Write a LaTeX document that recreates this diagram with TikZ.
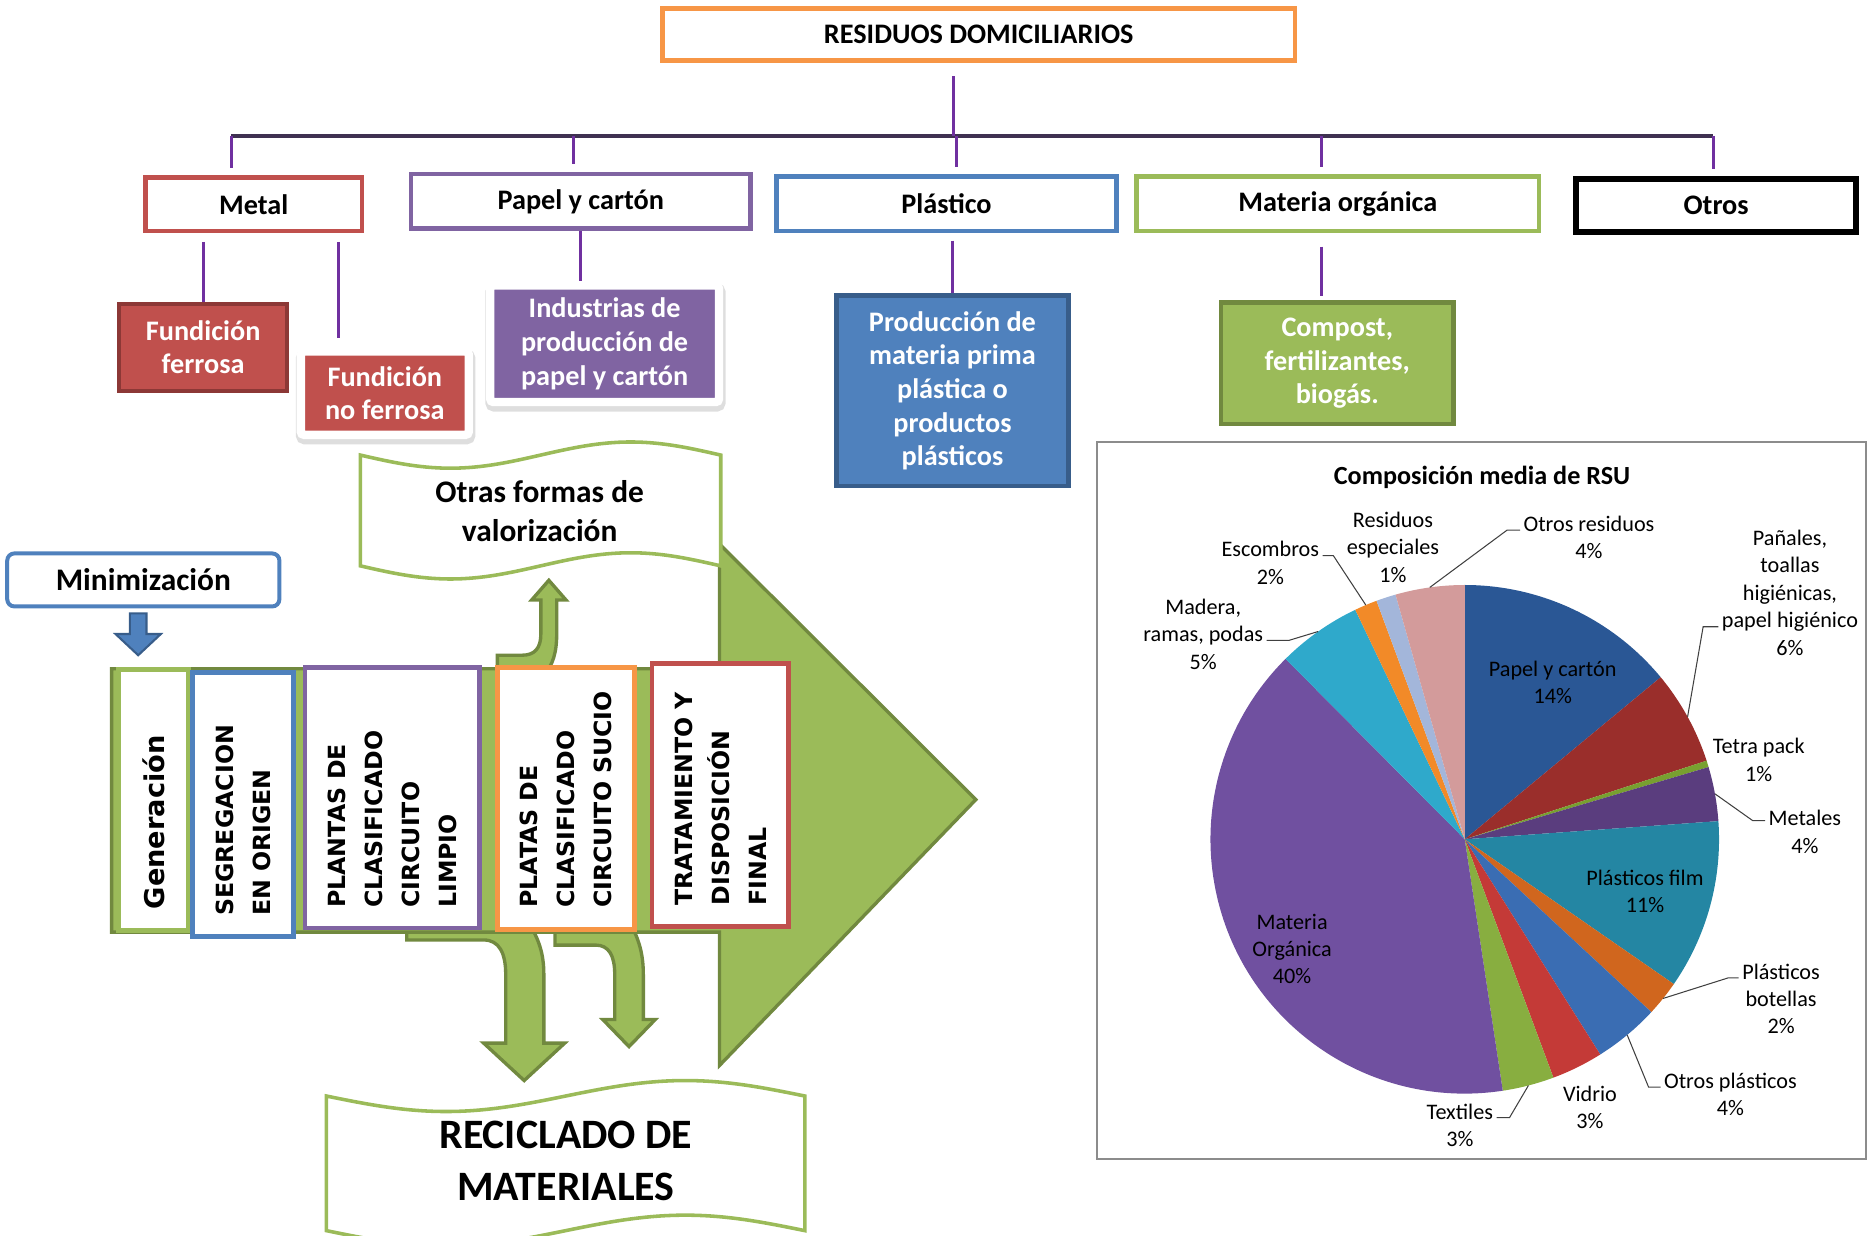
\documentclass[tikz,border=0pt]{standalone}
\usepackage{fontspec}
\setmainfont{Carlito}
\newfontfamily\vfont{DejaVu Sans}
\usetikzlibrary{shadows}
\definecolor{naranja}{HTML}{F79646}
\definecolor{rojo}{HTML}{C0504D}
\definecolor{rojoosc}{HTML}{8C3836}
\definecolor{morado}{HTML}{8064A2}
\definecolor{azul}{HTML}{4F81BD}
\definecolor{azulosc}{HTML}{385D8A}
\definecolor{verde}{HTML}{9BBB59}
\definecolor{verdeosc}{HTML}{71893F}
\definecolor{linea}{HTML}{7030A0}
\definecolor{barra}{HTML}{3F3151}
\definecolor{gris}{HTML}{8C8C8C}
\definecolor{pPapel}{HTML}{2A5795}
\definecolor{pPanal}{HTML}{9A2E2B}
\definecolor{pTetra}{HTML}{78A030}
\definecolor{pMetal}{HTML}{5A3D7E}
\definecolor{pFilm}{HTML}{2486A3}
\definecolor{pBotella}{HTML}{D0661E}
\definecolor{pOtroP}{HTML}{3A6DB3}
\definecolor{pVidrio}{HTML}{C43A37}
\definecolor{pTextil}{HTML}{88AE40}
\definecolor{pOrg}{HTML}{7050A0}
\definecolor{pMadera}{HTML}{2FA9CB}
\definecolor{pEscombro}{HTML}{F28A28}
\definecolor{pEspecial}{HTML}{A3B6DA}
\definecolor{pOtroR}{HTML}{D39B9B}
\tikzset{
  cat/.style={draw=#1, line width=2.2pt, fill=white, inner sep=0pt, font=\bfseries\fontsize{13.5}{16}\selectfont},
  res/.style={fill=#1, text=white, align=center, inner sep=0pt, font=\bfseries\fontsize{13.5}{16.1}\selectfont},
  marco/.style={draw=white, line width=4pt, rounded corners=1.5pt,
    general shadow={draw=black, fill=black, line width=5.5pt, opacity=0.13, shadow yshift=-1.8pt, shadow xshift=0.4pt}},
  etapa/.style={draw=#1, line width=2.3pt, fill=white, rotate=90, align=left, inner sep=0pt, font=\vfont\bfseries\fontsize{11.3}{17.6}\selectfont},
  rama/.style={draw=linea, line width=1.4pt},
  bus/.style={draw=barra, line width=2.2pt},
  bloque/.style={fill=verde, draw=verdeosc, line width=1.6pt},
  cinta/.style={draw=verde, fill=white, line width=1.7pt},
  lbl/.style={align=center, inner sep=1.5pt, font=\fontsize{10.6}{13.1}\selectfont},
  guia/.style={draw=black!75, line width=0.5pt}
}
\begin{document}
\begin{tikzpicture}[x=0.02cm,y=-0.02cm]
\useasboundingbox (0,0) rectangle (1568,1037);
\clip (0,0) rectangle (1568,1037);

\node[cat=naranja, minimum width=10.62cm, minimum height=0.88cm](residuos) at (821.5,29){RESIDUOS DOMICILIARIOS};
\node[cat=rojo, minimum width=3.64cm, minimum height=0.9cm](metal) at (213,171.5){Metal};
\node[cat=morado, minimum width=5.7cm, minimum height=0.92cm](papel) at (487.5,169){Papel y cartón};
\node[cat=azul, minimum width=5.7cm, minimum height=0.92cm](plastico) at (794.5,171){Plástico};
\node[cat=verde, minimum width=6.76cm, minimum height=0.92cm](organica) at (1123,171){Materia orgánica};
\node[cat=black, line width=2.8pt, minimum width=4.7cm, minimum height=0.9cm](otros) at (1440.5,172.5){Otros};

\coordinate (b0) at (800,114);
\coordinate (b1) at (194,114);
\coordinate (b2) at (481,114);
\coordinate (b3) at (803,114);
\coordinate (b4) at (1109,114);
\coordinate (b5) at (1438,114);
\draw[bus] (b1) -- (b5);
\draw[rama, shorten <=0.22cm] (residuos.south -| b0) -- (b0);
\foreach \b/\n in {b1/metal, b2/papel, b3/plastico, b4/organica, b5/otros}
  \draw[rama, shorten >=0.12cm] (\b) -- (\b |- \n.north);

\node[res=rojo, draw=rojoosc, line width=2pt, minimum width=2.82cm, minimum height=1.46cm](ferrosa) at (170.5,291.5){Fundición\\ferrosa};
\node[res=rojo, marco, minimum width=2.82cm, minimum height=1.4cm](noferrosa) at (323,330){Fundición\\no ferrosa};
\node[res=morado, marco, minimum width=3.84cm, minimum height=1.96cm](industria) at (507.5,288.5){Industrias de\\producción de\\papel y cartón};
\node[res=azul, draw=azulosc, line width=2.2pt, minimum width=3.9cm, minimum height=3.2cm](produccion) at (799.5,328){Producción de\\materia prima\\plástica o\\productos\\plásticos};
\node[res=verde, draw=verdeosc, line width=2.2pt, minimum width=3.9cm, minimum height=2.04cm](compost) at (1122.5,305){Compost,\\fertilizantes,\\biogás.};

\coordinate (m2) at (284,0);
\coordinate (m4) at (1109,0);
\draw[rama, shorten <=0.14cm] (ferrosa.north |- metal.south) -- (ferrosa.north);
\draw[rama, shorten <=0.14cm, shorten >=0.16cm] (metal.south -| m2) -- (noferrosa.north -| m2);
\draw[rama] (papel.south) -- (papel.south |- industria.north);
\draw[rama, shorten <=0.12cm] (produccion.north |- plastico.south) -- (produccion.north);
\draw[rama, shorten <=0.22cm, shorten >=0.08cm] (organica.south -| m4) -- (compost.north -| m4);

\draw[bloque] (417.5,566) -- (417.5,550) -- (438,550) .. controls (449,550) and (454,544) .. (454,532) -- (454,503.6) -- (446.3,503.6) -- (460.7,487.1) -- (475.1,503.6) -- (467.3,503.6) -- (467.3,532) .. controls (467.3,548) and (464,558) .. (457,566) -- cycle;
\draw[bloque] (341.4,775) -- (341.4,789) -- (406,789) .. controls (419,789) and (424.5,800) .. (424.5,818) -- (424.5,875.6) -- (406,875.6) -- (440,907) -- (474,875.6) -- (456.5,875.6) -- (456.5,818) .. controls (456.5,800) and (452,788) .. (444,775) -- cycle;
\draw[bloque] (465.9,775) -- (465.9,793.3) -- (500,793.3) .. controls (511,793.3) and (516,802) .. (516,818) -- (516,855.8) -- (506,855.8) -- (528,878.5) -- (550,855.8) -- (540,855.8) -- (540,818) .. controls (540,800) and (536,788) .. (529,775) -- cycle;
\draw[bloque] (93.7,561.3) -- (603.9,561.3) -- (603.9,456.6) -- (819.1,671.2) -- (603.9,894.4) -- (603.9,782.4) -- (93.7,782.4) -- cycle;

\node[etapa=verde, minimum width=4.37cm, minimum height=1.18cm, text width=3.67cm, font=\vfont\bfseries\fontsize{13}{17.6}\selectfont](generacion) at (128.7,671.5){Generación};
\node[etapa=azul, minimum width=4.43cm, minimum height=1.69cm, text width=3.73cm](segregacion) at (204,675.5){SEGREGACION\\EN ORIGEN};
\node[etapa=morado, minimum width=4.38cm, minimum height=2.93cm, text width=3.7cm](limpio) at (329.3,669.5){PLANTAS DE\\CLASIFICADO\\CIRCUITO\\LIMPIO};
\node[etapa=naranja, minimum width=4.4cm, minimum height=2.3cm, text width=3.68cm](sucio) at (475.1,670){PLATAS DE\\CLASIFICADO\\CIRCUITO SUCIO};
\node[etapa=rojo, minimum width=4.42cm, minimum height=2.3cm, text width=3.7cm](final) at (604.7,667.5){TRATAMIENTO Y\\DISPOSICIÓN\\FINAL};

\node[draw=azul, line width=1.9pt, rounded corners=0.12cm, fill=white, minimum width=4.57cm, minimum height=0.89cm, font=\bfseries\fontsize{15}{18}\selectfont](minimizacion) at (120.3,486.8){Minimización};
\draw[fill=azul, draw=azulosc, line width=1pt] (109,514.8) -- (123,514.8) -- (123,532.2) -- (135,532.2) -- (116,550) -- (97,532.2) -- (109,532.2) -- cycle;

\draw[cinta] (302.5,382) sin (378.1,393) cos (453.75,382) sin (529.4,371) cos (605,382) -- (605,475) sin (529.4,464) cos (453.75,475) sin (378.1,486) cos (302.5,475) -- cycle;
\node[align=center, font=\bfseries\fontsize{15}{18.2}\selectfont](otras) at (453,429){Otras formas de\\valorización};
\draw[cinta] (274,920) sin (374.4,933) cos (474.8,920) sin (575.2,907) cos (675.6,920) -- (675.6,1033) sin (575.2,1020) cos (474.8,1033) sin (374.4,1046) cos (274,1033) -- cycle;
\node[align=center, font=\bfseries\fontsize{20}{24.5}\selectfont](reciclado) at (475,974.5){RECICLADO DE\\MATERIALES};

\draw[draw=gris, line width=0.9pt] (921,371) rectangle (1566,973);
\node[font=\bfseries\fontsize{12.5}{15}\selectfont](titulo) at (1244,401){Composición media de RSU};
\begin{scope}[shift={(1229.5,704.5)}]
\foreach \a/\b/\c in {90/39.6/pPapel, 39.6/18/pPanal, 18/16.5/pTetra, 16.5/4.1/pMetal, 4.1/-34.7/pFilm, -34.7/-42.8/pBotella, -42.8/-57.8/pOtroP, -57.8/-69.6/pVidrio, -69.6/-81.4/pTextil, -81.4/-225.2/pOrg, -225.2/-244.5/pMadera, -244.5/-249.7/pEscombro, -249.7/-254.2/pEspecial, -254.2/-270/pOtroR}
  \fill[\c] (0,0) -- (\a:4.27cm) arc[start angle=\a, end angle=\b, radius=4.27cm] -- cycle;
\foreach \n/\a in {OtrR/97.9, Esc/112.9, Mad/125.2, Pan/28.8, Met/10.3, Bot/-38.75, OtrP/-50.3, Tex/-75.5}
  \coordinate (e\n) at (\a:4.27cm);
\end{scope}

\node[lbl](lPapel) at (1303.3,572.7){Papel y cartón\\14\%};
\node[lbl](lPan) at (1502.5,497.6){Pañales,\\toallas\\higiénicas,\\papel higiénico\\6\%};
\node[lbl](lTetra) at (1476.3,637.7){Tetra pack\\1\%};
\node[lbl](lMet) at (1515,698.3){Metales\\4\%};
\node[lbl](lFilm) at (1380.8,748.3){Plásticos film\\11\%};
\node[lbl](lBot) at (1495,838.4){Plásticos\\botellas\\2\%};
\node[lbl](lOtrP) at (1452.5,918.7){Otros plásticos\\4\%};
\node[lbl](lVid) at (1334.6,929.7){Vidrio\\3\%};
\node[lbl](lTex) at (1225.4,944.7){Textiles\\3\%};
\node[lbl](lMat) at (1084.6,796.6){Materia\\Orgánica\\40\%};
\node[lbl](lMad) at (1010,532.3){Madera,\\ramas, podas\\5\%};
\node[lbl](lEsc) at (1066.3,472.6){Escombros\\2\%};
\node[lbl](lResE) at (1169.2,459.2){Residuos\\especiales\\1\%};
\node[lbl](lOtrR) at (1333.8,451.3){Otros residuos\\4\%};

\coordinate (kOtrR) at (1265,445);
\coordinate (kEsc) at (1119.2,466.4);
\coordinate (kMad) at (1081.7,537.6);
\coordinate (kPan) at (1429.6,526.1);
\coordinate (kMet) at (1471.3,688.9);
\coordinate (kBot) at (1450.4,820.9);
\coordinate (kOtrP) at (1383.8,912.5);
\coordinate (kTex) at (1267.1,938.1);
\draw[guia] (eOtrR) -- (kOtrR) -- (kOtrR -| lOtrR.west);
\draw[guia] (eEsc) -- (kEsc) -- (kEsc -| lEsc.east);
\draw[guia] (eMad) -- (kMad) -- (kMad -| lMad.east);
\draw[guia] (ePan) -- (kPan) -- (kPan -| lPan.west);
\draw[guia] (eMet) -- (kMet) -- (kMet -| lMet.west);
\draw[guia] (eBot) -- (kBot) -- (kBot -| lBot.west);
\draw[guia] (eOtrP) -- (kOtrP) -- (kOtrP -| lOtrP.west);
\draw[guia] (eTex) -- (kTex) -- (kTex -| lTex.east);
\end{tikzpicture}
\end{document}
